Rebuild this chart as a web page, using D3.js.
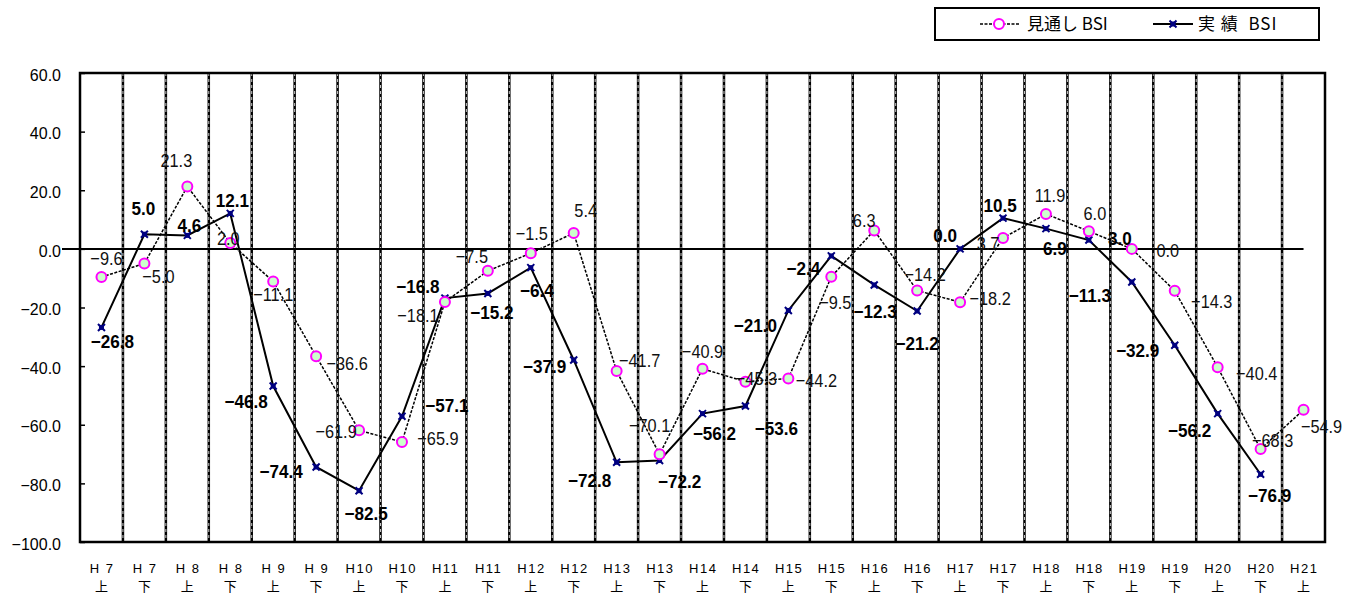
<!DOCTYPE html>
<html lang="ja">
<head>
<meta charset="utf-8">
<title>BSI</title>
<script src="https://cdn.jsdelivr.net/npm/d3@7/dist/d3.min.js"></script>
<style>
  body { margin: 0; background: #fff; }
  svg { display: block; }
  .ylab text { font-family: "Liberation Sans", Arial, sans-serif; font-size: 16px; fill: #000; }
  .xlab { font-family: "Liberation Sans", Arial, sans-serif; font-size: 13px; letter-spacing: 1.5px; fill: #000; }
  .xhalf { font-family: "Noto Sans CJK JP", sans-serif; font-size: 13px; fill: #000; }
  .fl { font-family: "Liberation Sans", Arial, sans-serif; font-size: 19px; fill: #111; }
  .al { font-family: "Liberation Sans", Arial, sans-serif; font-size: 19px; font-weight: bold; fill: #000; }
  .leg { font-family: "Noto Sans CJK JP", sans-serif; font-size: 17px; fill: #000; white-space: pre; }
</style>
</head>
<body>
<div id="chart"></div>
<script>
// periods
var years = ["H 7","H 7","H 8","H 8","H 9","H 9","H10","H10","H11","H11","H12","H12","H13","H13","H14",
             "H14","H15","H15","H16","H16","H17","H17","H18","H18","H19","H19","H20","H20","H21"];
var halves = ["上","下","上","下","上","下","上","下","上","下","上","下","上","下","上",
              "下","上","下","上","下","上","下","上","下","上","下","上","下","上"];

// 見通し BSI
var forecast = [-9.6, -5.0, 21.3, 2.0, -11.1, -36.6, -61.9, -65.9, -18.1, -7.5, -1.5, 5.4, -41.7, -70.1, -40.9,
                -45.3, -44.2, -9.5, 6.3, -14.2, -18.2, 3.7, 11.9, 6.0, 0.0, -14.3, -40.4, -68.3, -54.9];
// 実績 BSI (no value for H21上)
var actual = [-26.8, 5.0, 4.6, 12.1, -46.8, -74.4, -82.5, -57.1, -16.8, -15.2, -6.4, -37.9, -72.8, -72.2, -56.2,
              -53.6, -21.0, -2.4, -12.3, -21.2, 0.0, 10.5, 6.9, 3.0, -11.3, -32.9, -56.2, -76.9, null];

var yTicks = [60, 40, 20, 0, -20, -40, -60, -80, -100];

// label offsets from the marker (centre x, baseline y)
var fcOff = [[5,-12],[14,19],[-11,-19],[-2,2],[0,20],[31,14],[-23,8],[36,3],[-27,20],[-16,-8],
             [1,-13],[12,-16],[23,-4],[-10,-22],[0,-11],[11,3],[28,9],[4,32],[-10,-3],[8,-9],
             [30,3],[-15,12],[4,-12],[6,-11],[36,8],[37,17],[39,13],[12,-2],[18,23]];
var acOff = [[11,21],[-1,-19],[2,-3],[2,-6],[-27,22],[-35,11],[7,29],[45,-4],[-27,-5],[4,26],
             [6,29],[-29,13],[-27,25],[20,27],[12,26],[31,29],[-33,22],[-28,19],[1,33],[0,39],
             [-15,-7],[-3,-6],[9,26],[31,5],[-42,20],[-37,12],[-28,23],[9,28]];

var W = 1355, H = 594;
var plotL = 80, plotR = 1325, plotT = 73, plotB = 542;

var svg = d3.select("#chart").append("svg")
    .attr("width", W)
    .attr("height", H);

var x = d3.scaleBand()
    .domain(d3.range(years.length))
    .range([plotL, plotR])
    .padding(0);

var y = d3.scaleLinear()
    .domain([-100, 60])
    .range([plotB, plotT]);

function cx(i) { return x(i) + x.bandwidth() / 2; }

// vertical dashed grid lines between categories
var bounds = d3.range(1, years.length).map(function(i) { return x(i); });
svg.selectAll("line.vg").data(bounds).enter().append("line")
    .attr("x1", function(d) { return d; }).attr("x2", function(d) { return d; })
    .attr("y1", plotT).attr("y2", plotB)
    .attr("stroke", "#000").attr("stroke-width", 2.5);
svg.selectAll("line.vw").data(bounds).enter().append("line")
    .attr("x1", function(d) { return d; }).attr("x2", function(d) { return d; })
    .attr("y1", plotT).attr("y2", plotB)
    .attr("stroke", "#fff").attr("stroke-width", 0.8)
    .attr("stroke-dasharray", "3,3");

// y axis
var yAxis = svg.append("g")
    .attr("class", "ylab")
    .attr("transform", "translate(" + plotL + ",0)")
    .call(d3.axisLeft(y).tickValues(yTicks).tickSize(-5).tickPadding(19).tickFormat(d3.format(".1f")));
yAxis.select(".domain").remove();
yAxis.selectAll(".tick line").attr("stroke", "#000").attr("stroke-width", 1.5);
yAxis.selectAll(".tick text").attr("dy", "0.45em");

// plot border
svg.append("rect")
    .attr("x", plotL).attr("y", plotT)
    .attr("width", plotR - plotL).attr("height", plotB - plotT)
    .attr("fill", "none").attr("stroke", "#000").attr("stroke-width", 2.5);

// zero line
svg.append("line")
    .attr("x1", 62).attr("x2", cx(years.length - 1))
    .attr("y1", y(0)).attr("y2", y(0))
    .attr("stroke", "#000").attr("stroke-width", 2);

// x labels
var xl = svg.append("g");
xl.selectAll("text.xlab").data(years).enter().append("text")
    .attr("class", "xlab")
    .attr("x", function(d, i) { return cx(i) + 0.75; })
    .attr("y", 573)
    .attr("text-anchor", "middle")
    .text(function(d) { return d; });
xl.selectAll("text.xhalf").data(halves).enter().append("text")
    .attr("class", "xhalf")
    .attr("x", function(d, i) { return cx(i); })
    .attr("y", 591)
    .attr("text-anchor", "middle")
    .text(function(d) { return d; });

// lines
var fLine = d3.line()
    .x(function(d, i) { return cx(i); })
    .y(function(d) { return y(d); });
var aLine = d3.line()
    .defined(function(d) { return d !== null; })
    .x(function(d, i) { return cx(i); })
    .y(function(d) { return y(d); });

svg.append("path").datum(forecast)
    .attr("d", fLine)
    .attr("fill", "none").attr("stroke", "#000").attr("stroke-width", 1.5)
    .attr("stroke-dasharray", "3,1.5");
svg.append("path").datum(actual)
    .attr("d", aLine)
    .attr("fill", "none").attr("stroke", "#000").attr("stroke-width", 2);

function xMark(g) {
    g.append("rect").attr("x", -2.5).attr("y", -2.5).attr("width", 5).attr("height", 5).attr("fill", "#000080");
    g.append("path").attr("d", "M-3.5,-3.5L3.5,3.5M-3.5,3.5L3.5,-3.5")
        .attr("stroke", "#000080").attr("stroke-width", 2);
}

// markers
var aPts = actual.map(function(v, i) { return { v: v, i: i }; }).filter(function(d) { return d.v !== null; });
svg.selectAll("g.am").data(aPts).enter().append("g")
    .attr("transform", function(d) { return "translate(" + cx(d.i) + "," + y(d.v) + ")"; })
    .each(function() { xMark(d3.select(this)); });

svg.selectAll("circle.fm").data(forecast).enter().append("circle")
    .attr("cx", function(d, i) { return cx(i); })
    .attr("cy", function(d) { return y(d); })
    .attr("r", 5)
    .attr("fill", "#ccffcc").attr("stroke", "#ff00ff").attr("stroke-width", 2);

// data labels (narrowed a bit, like the condensed gothic of the original)
var fmt = d3.format(".1f");
svg.selectAll("text.fl").data(forecast).enter().append("text")
    .attr("class", "fl")
    .attr("text-anchor", "middle")
    .attr("transform", function(d, i) {
        return "translate(" + (cx(i) + fcOff[i][0]) + "," + (y(d) + fcOff[i][1]) + ") scale(0.86,1)";
    })
    .text(function(d) { return fmt(d); });
svg.selectAll("text.al").data(aPts).enter().append("text")
    .attr("class", "al")
    .attr("text-anchor", "middle")
    .attr("transform", function(d) {
        return "translate(" + (cx(d.i) + acOff[d.i][0]) + "," + (y(d.v) + acOff[d.i][1]) + ") scale(0.9,1)";
    })
    .text(function(d) { return fmt(d.v); });

// legend
var lg = svg.append("g");
lg.append("rect").attr("x", 935).attr("y", 8).attr("width", 384).attr("height", 32)
    .attr("fill", "#fff").attr("stroke", "#000").attr("stroke-width", 2);
lg.append("line").attr("x1", 980).attr("x2", 1020).attr("y1", 24).attr("y2", 24)
    .attr("stroke", "#000").attr("stroke-width", 1.5).attr("stroke-dasharray", "3,1.5");
lg.append("circle").attr("cx", 999).attr("cy", 24).attr("r", 5)
    .attr("fill", "#fff").attr("stroke", "#ff00ff").attr("stroke-width", 2);
lg.append("text").attr("class", "leg").attr("x", 1027).attr("y", 30).text("見通し BSI");
lg.append("line").attr("x1", 1153).attr("x2", 1193).attr("y1", 24).attr("y2", 24)
    .attr("stroke", "#000").attr("stroke-width", 2);
xMark(lg.append("g").attr("transform", "translate(1173,24)"));
lg.append("text").attr("class", "leg").attr("x", 1198).attr("y", 30).attr("letter-spacing", "1px").text("実 績  BSI");
</script>
</body>
</html>
